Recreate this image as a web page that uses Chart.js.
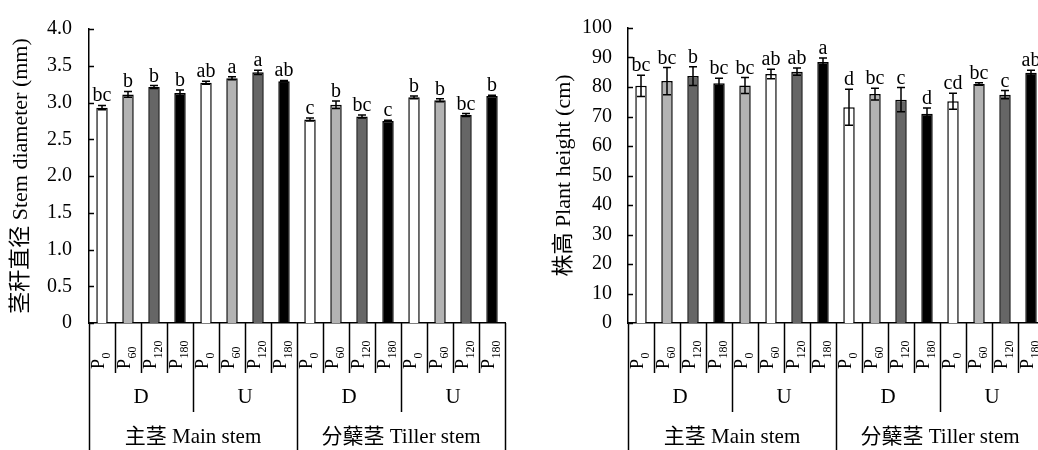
<!DOCTYPE html>
<html>
<head>
<meta charset="utf-8">
<script src="https://cdn.jsdelivr.net/npm/chart.js@4.4.1/dist/chart.umd.min.js"></script>
<style>
  html, body { margin: 0; padding: 0; background: #fff; overflow: hidden; }
  #wrap { position: relative; width: 1038px; height: 450px; overflow: hidden; }
  .box { position: absolute; top: 0; height: 450px; }
</style>
</head>
<body>
<div id="wrap">
  <div class="box" style="left:0;width:519px"><canvas id="diameterChart"></canvas></div>
  <div class="box" style="left:519px;width:526px"><canvas id="heightChart"></canvas></div>
</div>
<script>
// categories: 2 stems x 2 positions x 4 P doses
const doses = ['0', '60', '120', '180'];
const positions = ['D', 'U', 'D', 'U'];
const stems = ['主茎 Main stem', '分蘖茎 Tiller stem'];

const diameterTicks = [0, 0.5, 1.0, 1.5, 2.0, 2.5, 3.0, 3.5, 4.0];
const diameter = [2.93, 3.11, 3.21, 3.13, 3.27, 3.33, 3.41, 3.29, 2.77, 2.97, 2.81, 2.75, 3.07, 3.03, 2.83, 3.09];
const diameterErr = [0.03, 0.04, 0.02, 0.04, 0.02, 0.02, 0.03, 0.01, 0.02, 0.05, 0.02, 0.01, 0.02, 0.02, 0.02, 0.01];
const diameterLetters = ['bc', 'b', 'b', 'b', 'ab', 'a', 'a', 'ab', 'c', 'b', 'bc', 'c', 'b', 'b', 'bc', 'b'];

const heightTicks = [0, 10, 20, 30, 40, 50, 60, 70, 80, 90, 100];
const height = [80.4, 82.0, 83.7, 81.3, 80.5, 84.4, 85.2, 88.5, 73.1, 77.6, 75.7, 70.9, 75.2, 81.0, 77.4, 84.8];
const heightErr = [3.6, 4.6, 3.2, 1.7, 2.7, 1.6, 1.2, 1.3, 6.1, 2.0, 4.1, 2.0, 2.7, 0.4, 1.4, 0.9];
const heightLetters = ['bc', 'bc', 'b', 'bc', 'bc', 'ab', 'ab', 'a', 'd', 'bc', 'c', 'd', 'cd', 'bc', 'c', 'ab'];

const labels = [];
stems.forEach(() => positions.slice(0, 2).forEach(() => doses.forEach(d => labels.push('P' + d))));

// fills
const W = '#ffffff', L = '#b3b3b3', G = '#666666', K = '#000000';
const diameterFill = [W, L, G, K, W, L, G, K, W, L, G, K, W, L, G, K];
const heightFill = [W, L, G, K, L, W, G, K, W, L, G, K, W, L, G, K];

const FONT = '"Liberation Serif", "Noto Sans CJK SC", serif';

const groupAxisPlugin = {
  id: 'groupAxis',
  afterDatasetsDraw(chart, args, opts) {
    const { ctx, chartArea, scales: { x, y } } = chart;
    const values = chart.data.datasets[0].data;
    ctx.save();
    ctx.strokeStyle = '#000';
    ctx.fillStyle = '#000';
    ctx.lineWidth = 1.5;

    // inward tick marks
    y.ticks.forEach(t => {
      const py = Math.round(y.getPixelForValue(t.value)) + 0.5;
      ctx.beginPath();
      ctx.moveTo(chartArea.left, py);
      ctx.lineTo(chartArea.left + 5, py);
      ctx.stroke();
    });

    // error bars + letters
    ctx.font = '20px ' + FONT;
    ctx.textAlign = 'center';
    ctx.textBaseline = 'alphabetic';
    values.forEach((v, i) => {
      const e = opts.errors[i];
      const px = x.getPixelForValue(i);
      const top = y.getPixelForValue(v + e);
      const bot = y.getPixelForValue(v - e);
      ctx.beginPath();
      ctx.moveTo(px, top); ctx.lineTo(px, bot);
      ctx.moveTo(px - 4, top); ctx.lineTo(px + 4, top);
      ctx.moveTo(px - 4, bot); ctx.lineTo(px + 4, bot);
      ctx.stroke();
      ctx.fillText(opts.letters[i], px, top - 4);
    });

    // multi-level category axis
    const n = values.length;
    const step = x.getPixelForValue(1) - x.getPixelForValue(0);
    const x0 = x.getPixelForValue(0) - step / 2;
    const base = chartArea.bottom;
    for (let i = 0; i <= n; i++) {
      const bx = Math.round(x0 + i * step) + 0.5;
      let len = 50;
      if (i % 8 === 0) len = 127;
      else if (i % 4 === 0) len = 89;
      ctx.beginPath();
      ctx.moveTo(bx, base);
      ctx.lineTo(bx, base + len);
      ctx.stroke();
    }

    for (let i = 0; i < n; i++) {
      const px = x.getPixelForValue(i);
      ctx.save();
      ctx.translate(px, base + 46);
      ctx.rotate(-Math.PI / 2);
      ctx.textAlign = 'left';
      ctx.textBaseline = 'middle';
      ctx.font = '18px ' + FONT;
      ctx.fillText('P', 0, -3);
      const w = ctx.measureText('P').width;
      ctx.font = '12px ' + FONT;
      ctx.fillText(doses[i % 4], w + 0.5, 5);
      ctx.restore();
    }

    ctx.font = '21px ' + FONT;
    ctx.textAlign = 'center';
    ctx.textBaseline = 'middle';
    positions.forEach((p, g) => {
      ctx.fillText(p, x0 + (g * 4 + 2) * step, base + 74);
    });
    stems.forEach((s, g) => {
      ctx.fillText(s, x0 + (g * 8 + 4) * step, base + 114);
    });
    ctx.restore();
  }
};

function makeChart(id, cfg) {
  return new Chart(document.getElementById(id), {
    type: 'bar',
    data: {
      labels,
      datasets: [{
        data: cfg.values,
        backgroundColor: cfg.fill,
        borderColor: '#000',
        borderWidth: 1.5,
        barPercentage: 0.44,
        categoryPercentage: 1.0
      }]
    },
    options: {
      responsive: true,
      maintainAspectRatio: false,
      animation: false,
      layout: { padding: { top: cfg.top, right: cfg.right, left: 0, bottom: 0 } },
      plugins: {
        legend: { display: false },
        tooltip: { enabled: false },
        groupAxis: { errors: cfg.errors, letters: cfg.letters }
      },
      scales: {
        x: {
          grid: { display: false, drawTicks: false },
          border: { display: true, color: '#000', width: 1.5 },
          ticks: { display: false },
          afterFit: s => { s.height = 127; }
        },
        y: {
          min: 0,
          max: cfg.ticks[cfg.ticks.length - 1],
          afterBuildTicks: s => { s.ticks = cfg.ticks.map(v => ({ value: v })); },
          grid: { display: false, drawTicks: false },
          border: { display: true, color: '#000', width: 1.5 },
          ticks: {
            color: '#000',
            padding: cfg.tickPad,
            font: { family: FONT, size: 20 },
            callback: v => cfg.fmt(v)
          },
          title: {
            display: true,
            text: cfg.title,
            color: '#000',
            font: { family: FONT, size: 22 },
            padding: { top: cfg.titlePad, bottom: 0 }
          },
          afterFit: s => { s.width = cfg.axisWidth; }
        }
      }
    },
    plugins: [groupAxisPlugin]
  });
}

makeChart('diameterChart', {
  values: diameter, errors: diameterErr, letters: diameterLetters, fill: diameterFill,
  ticks: diameterTicks, fmt: v => (v === 0 ? '0' : v.toFixed(1)),
  title: '茎秆直径 Stem diameter (mm)',
  top: 21, right: 14, axisWidth: 89, tickPad: 17, titlePad: 8
});

makeChart('heightChart', {
  values: height, errors: heightErr, letters: heightLetters, fill: heightFill,
  ticks: heightTicks, fmt: v => String(v),
  title: '株高 Plant height (cm)',
  top: 25, right: 1, axisWidth: 109, tickPad: 16, titlePad: 32
});
</script>
</body>
</html>
